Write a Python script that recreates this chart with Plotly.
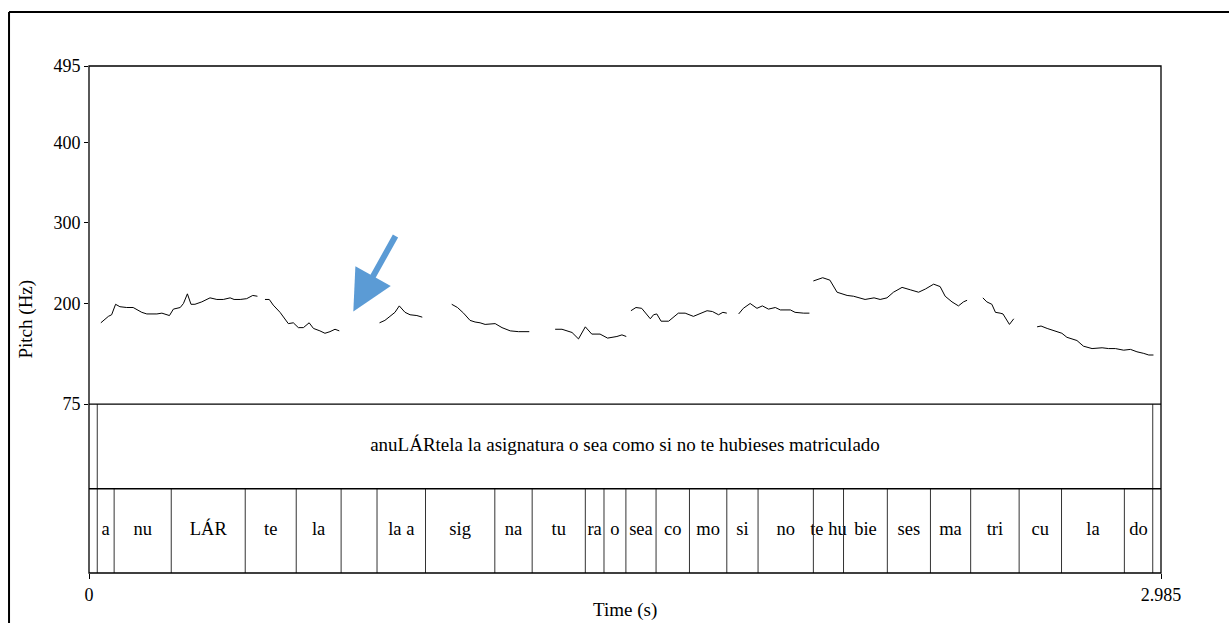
import plotly.graph_objects as go

# ---- Pitch contour (time in s, F0 in Hz), one list per voiced stretch ----
contour_t = [
    [0.033, 0.045, 0.054, 0.063, 0.074, 0.086, 0.105, 0.123, 0.147, 0.161, 0.189, 0.203,
     0.224, 0.235, 0.254, 0.263, 0.274, 0.284, 0.295, 0.314, 0.337, 0.356, 0.374, 0.393,
     0.404, 0.421, 0.439, 0.456, 0.469],
    [0.490, 0.502, 0.513, 0.532, 0.555, 0.569, 0.583, 0.597, 0.613, 0.625, 0.643, 0.657,
     0.671, 0.685, 0.697],
    [0.809, 0.824, 0.838, 0.852, 0.864, 0.880, 0.894, 0.913, 0.928],
    [1.010, 1.026, 1.043, 1.061, 1.075, 1.089, 1.103, 1.131, 1.150, 1.173, 1.196, 1.210, 1.226],
    [1.298, 1.317, 1.345, 1.363, 1.382, 1.400, 1.423, 1.444, 1.470, 1.484, 1.496],
    [1.509, 1.523, 1.539, 1.563, 1.572, 1.581, 1.593, 1.602, 1.614, 1.641, 1.660, 1.683,
     1.702, 1.721, 1.736, 1.753, 1.765, 1.776],
    [1.809, 1.822, 1.841, 1.860, 1.875, 1.892, 1.911, 1.925, 1.953, 1.966, 1.990, 2.006],
    [2.017, 2.043, 2.063, 2.083, 2.111, 2.129, 2.161, 2.186, 2.203, 2.222, 2.240, 2.264,
     2.287, 2.310, 2.329, 2.352, 2.370, 2.384, 2.403, 2.421, 2.435, 2.445],
    [2.489, 2.500, 2.514, 2.524, 2.537, 2.545, 2.563, 2.575],
    [2.640, 2.651, 2.668, 2.686, 2.709, 2.723, 2.737, 2.751, 2.769, 2.793, 2.821, 2.839,
     2.858, 2.881, 2.900, 2.918, 2.937, 2.951, 2.964],
]
contour_hz = [
    [176, 181, 184, 186, 199, 196, 195, 195, 189, 187, 187, 188, 185, 193, 195, 200, 212,
     199, 199, 202, 207, 205, 205, 207, 205, 205, 206, 210, 209],
    [205, 205, 198, 189, 175, 176, 170, 170, 176, 169, 166, 163, 165, 168, 166],
    [176, 179, 184, 189, 197, 189, 186, 185, 183],
    [199, 195, 188, 179, 177, 176, 174, 175, 170, 166, 165, 165, 165],
    [168, 168, 164, 156, 171, 162, 162, 157, 159, 161, 159],
    [191, 195, 194, 181, 186, 187, 178, 178, 178, 188, 188, 184, 188, 191, 190, 186, 189, 188],
    [187, 194, 200, 194, 197, 193, 195, 192, 192, 189, 188, 188],
    [228, 232, 229, 214, 210, 209, 205, 207, 205, 207, 214, 220, 217, 214, 218, 224, 221,
     209, 202, 197, 202, 204],
    [207, 202, 199, 189, 188, 187, 174, 181],
    [171, 172, 169, 166, 163, 158, 156, 154, 147, 144, 145, 144, 144, 142, 143, 140, 138,
     136, 136],
]

# ---- Annotation tiers ----
T_END = 2.985
sentence = "anuLÁRtela la asignatura o sea como si no te hubieses matriculado"
sentence_bounds = [0.023, 2.962]

syllable_bounds = [0.023, 0.070, 0.229, 0.435, 0.577, 0.702, 0.802, 0.937, 1.130, 1.234,
                   1.382, 1.434, 1.495, 1.579, 1.672, 1.776, 1.863, 2.017, 2.101, 2.223,
                   2.343, 2.455, 2.590, 2.708, 2.883, 2.962]
syllables = ["a", "nu", "LÁR", "te", "la", "", "la a", "sig", "na", "tu", "ra", "o", "sea",
             "co", "mo", "si", "no", "te hu", "bie", "ses", "ma", "tri", "cu", "la", "do"]

y_ticks = [75, 200, 300, 400, 495]
x_ticks = [0, T_END]
x_tick_text = ["0", "2.985"]

SERIF = "Liberation Serif"
PITCH_BOTTOM = 0.3331   # paper-y where the pitch panel meets the tiers
TIER_SPLIT = 0.1662     # paper-y between the two text tiers

fig = go.Figure()

for ts, hs in zip(contour_t, contour_hz):
    fig.add_trace(go.Scatter(x=ts, y=hs, mode="lines", yaxis="y",
                             line=dict(color="black", width=1), hoverinfo="skip",
                             showlegend=False))

# tier texts (yaxis2: 0..2, lower tier 0..1, upper tier 1..2)
fig.add_trace(go.Scatter(
    x=[(sentence_bounds[0] + sentence_bounds[1]) / 2], y=[1.5], yaxis="y2",
    mode="text", text=[sentence], textfont=dict(family=SERIF, size=19, color="black"),
    showlegend=False, hoverinfo="skip"))
mids = [(a + b) / 2 for a, b in zip(syllable_bounds[:-1], syllable_bounds[1:])]
fig.add_trace(go.Scatter(
    x=mids, y=[0.5] * len(mids), yaxis="y2", mode="text", text=syllables,
    textfont=dict(family=SERIF, size=18.5, color="black"),
    showlegend=False, hoverinfo="skip"))

shapes = []
# interval boundaries
for b in sentence_bounds:
    shapes.append(dict(type="line", xref="x", yref="y2", x0=b, x1=b, y0=1, y1=2,
                       line=dict(color="#333333", width=1)))
for b in syllable_bounds:
    shapes.append(dict(type="line", xref="x", yref="y2", x0=b, x1=b, y0=0, y1=1,
                       line=dict(color="#333333", width=1)))
# panel frame and tier separators
shapes.append(dict(type="rect", xref="paper", yref="paper", x0=0, x1=1, y0=0, y1=1,
                   line=dict(color="black", width=1.3)))
for yp in (PITCH_BOTTOM, TIER_SPLIT):
    shapes.append(dict(type="line", xref="paper", yref="paper", x0=0, x1=1, y0=yp, y1=yp,
                       line=dict(color="black", width=1.3)))
# outer border of the picture: top and left edges only
shapes.append(dict(type="line", xref="paper", yref="paper", x0=-0.0746, x1=1.2,
                   y0=1.1065, y1=1.1065, line=dict(color="black", width=2)))
shapes.append(dict(type="line", xref="paper", yref="paper", x0=-0.0746, x1=-0.0746,
                   y0=-0.3, y1=1.1065, line=dict(color="black", width=2)))

annotations = [
    dict(text="Pitch (Hz)", xref="paper", yref="paper", x=-0.0597, y=0.5,
         xanchor="center", yanchor="middle", textangle=-90, showarrow=False,
         font=dict(family=SERIF, size=19, color="black")),
    dict(text="Time (s)", xref="paper", yref="paper", x=0.5, y=-0.072,
         xanchor="center", yanchor="middle", showarrow=False,
         font=dict(family=SERIF, size=19, color="black")),
    # pointer to the pitch gap before "la a"
    dict(x=0.736, y=190, xref="x", yref="y", ax=43, ay=-77, text="", showarrow=True,
         arrowhead=2, arrowsize=1.35, arrowwidth=6, arrowcolor="#5B9BD5"),
]

fig.update_layout(
    width=1229, height=623,
    margin=dict(l=89, r=68, t=66, b=50),
    paper_bgcolor="white", plot_bgcolor="white",
    font=dict(family=SERIF, color="black"),
    shapes=shapes, annotations=annotations, showlegend=False,
    xaxis=dict(range=[0, T_END], anchor="y2", tickvals=x_ticks, ticktext=x_tick_text,
               ticks="outside", ticklen=5, tickcolor="black", showgrid=False,
               zeroline=False, showline=False,
               tickfont=dict(family=SERIF, size=18, color="black")),
    yaxis=dict(range=[75, 495], domain=[PITCH_BOTTOM, 1], tickvals=y_ticks,
               ticks="outside", ticklen=4, tickcolor="black", showgrid=False,
               zeroline=False, showline=False,
               tickfont=dict(family=SERIF, size=18, color="black")),
    yaxis2=dict(range=[0, 2], domain=[0, PITCH_BOTTOM], showticklabels=False,
                showgrid=False, zeroline=False, showline=False, ticks=""),
)

fig.write_html("out.html")
